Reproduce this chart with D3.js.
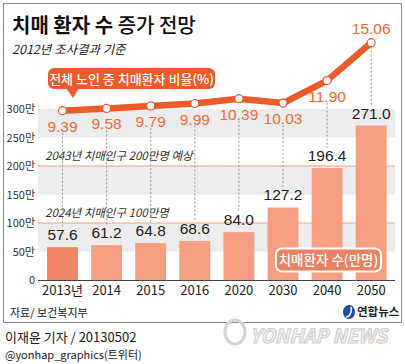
<!DOCTYPE html>
<html><head><meta charset="utf-8">
<script src="https://cdn.jsdelivr.net/npm/d3@7"></script>
<style>
html,body{margin:0;padding:0;background:#fff;}
svg{display:block;}
text{font-family:"Noto Sans CJK KR","Noto Sans",sans-serif;}
.num{font-family:"Liberation Sans",Arial,sans-serif;}
</style></head>
<body>
<script>
const categories = ["2013년","2014","2015","2016","2020","2030","2040","2050"];
const patients = [57.6, 61.2, 64.8, 68.6, 84.0, 127.2, 196.4, 271.0];
const ratio = [9.39, 9.58, 9.79, 9.99, 10.39, 10.03, 11.90, 15.06];
const yTicks = [0, 50, 100, 150, 200, 250, 300];
const yTickLabels = ["0","50만","100만","150만","200만","250만","300만"];
const refLines = [100, 200];
const refNotes = ["2024년 치매인구 100만명", "2043년 치매인구 200만명 예상"];

const W = 405, H = 364;
const svg = d3.select("body").append("svg").attr("width", W).attr("height", H);

const x = d3.scaleBand().domain(categories).range([40.45, 393.25]).paddingInner(0.3).paddingOuter(0.15);
const y = d3.scaleLinear().domain([0, 300]).range([280, 109]);
const yr = d3.scaleLinear().domain([9, 16]).range([115.4, 31.4]);
const cx = c => x(c) + x.bandwidth() / 2;

// outer box
svg.append("rect").attr("x", 3.5).attr("y", 3.5).attr("width", 398).attr("height", 319)
  .attr("fill", "#fff").attr("stroke", "#8a8a8a").attr("stroke-width", 1);

// title
const t = svg.append("text").attr("x", 12).attr("y", 33).attr("font-size", 20).attr("fill", "#111");
t.append("tspan").attr("font-weight", 700).text("치매 환자 수 ");
t.append("tspan").attr("font-weight", 500).text("증가 전망");
svg.append("text").attr("x", 12).attr("y", 54).attr("font-size", 12.5).attr("font-style", "italic")
  .attr("fill", "#222").text("2012년 조사결과 기준");

// gray bands
const bandPairs = [[250,300],[150,200],[50,100]];
svg.append("g").selectAll("rect").data(bandPairs).join("rect")
  .attr("x", 38).attr("width", 357)
  .attr("y", d => y(d[1])).attr("height", d => y(d[0]) - y(d[1]))
  .attr("fill", "#ececec");

// y axis labels
const yAxis = d3.axisLeft(y).tickValues(yTicks).tickSize(0).tickPadding(0)
  .tickFormat((d, i) => yTickLabels[i]);
const ya = svg.append("g").attr("transform", "translate(35,0)").call(yAxis);
ya.select(".domain").remove();
ya.selectAll("text").attr("font-family", '"Noto Sans CJK KR",sans-serif').attr("font-size", 11).attr("fill", "#333");

// reference lines
svg.append("g").selectAll("line").data(refLines).join("line")
  .attr("x1", 38).attr("x2", 395).attr("y1", d => y(d)).attr("y2", d => y(d))
  .attr("stroke", "#f4a27f").attr("stroke-width", 1);
svg.append("g").selectAll("text").data(refLines).join("text")
  .attr("x", 45).attr("y", d => y(d) - 6).attr("font-size", 11.5).attr("font-style", "italic")
  .attr("fill", "#333").text((d, i) => refNotes[i]);

// dotted verticals
svg.append("g").selectAll("line").data(categories).join("line")
  .attr("x1", d => cx(d)).attr("x2", d => cx(d))
  .attr("y1", (d, i) => yr(ratio[i]) + (i === 7 ? 4 : 22))
  .attr("y2", (d, i) => y(patients[i]) - 20)
  .attr("stroke", "#999").attr("stroke-width", 1).attr("stroke-dasharray", "2,2");

// bars
svg.append("g").selectAll("rect").data(categories).join("rect")
  .attr("x", d => x(d)).attr("width", x.bandwidth())
  .attr("y", (d, i) => y(patients[i])).attr("height", (d, i) => y(0) - y(patients[i]))
  .attr("fill", (d, i) => i === 0 ? "#f08464" : "#f59e82");

// bar labels
svg.append("g").selectAll("text").data(categories).join("text")
  .attr("class", "num").attr("x", d => cx(d)).attr("y", (d, i) => y(patients[i]) - 7)
  .attr("text-anchor", "middle").attr("font-size", 15.5).attr("fill", "#222")
  .text((d, i) => patients[i].toFixed(1));

// baseline axis
const xAxis = d3.axisBottom(x).tickSize(0).tickPadding(6);
const xa = svg.append("g").attr("transform", "translate(0,280)").call(xAxis);
xa.select(".domain").attr("d", "M38,0.5H395").attr("stroke", "#444");
xa.selectAll("text").attr("font-family", '"Liberation Sans","Noto Sans CJK KR",sans-serif')
  .attr("font-size", 13).attr("fill", "#222");

// bar legend
svg.append("rect").attr("x", 276).attr("y", 248.5).attr("width", 105).attr("height", 23).attr("rx", 6)
  .attr("fill", "#eb8163").attr("stroke", "#fff").attr("stroke-width", 2);
svg.append("text").attr("x", 328.5).attr("y", 265).attr("text-anchor", "middle")
  .attr("font-size", 13.5).attr("font-weight", 500).attr("fill", "#fff").text("치매환자 수(만명)");

// line
const line = d3.line().x((d, i) => cx(categories[i])).y(d => yr(d));
svg.append("path").datum(ratio).attr("d", line).attr("fill", "none")
  .attr("stroke", "#ee5a2a").attr("stroke-width", 6.5).attr("stroke-linejoin", "round");
svg.append("g").selectAll("circle").data(ratio).join("circle")
  .attr("cx", (d, i) => cx(categories[i])).attr("cy", d => yr(d)).attr("r", 4)
  .attr("fill", "#fff").attr("stroke", "#ee5a2a").attr("stroke-width", 1.2);
svg.append("g").selectAll("text").data(ratio).join("text")
  .attr("class", "num").attr("x", (d, i) => cx(categories[i]))
  .attr("y", (d, i) => i === 7 ? yr(d) - 9 : yr(d) + 21)
  .attr("text-anchor", "middle").attr("font-size", 15.5).attr("fill", "#f26a2c")
  .text(d => d.toFixed(2));

// line legend pill
svg.append("path").attr("d", "M66,88 L73,98 L79,88 Z").attr("fill", "#ee5a2a");
svg.append("rect").attr("x", 48).attr("y", 68).attr("width", 167).attr("height", 21).attr("rx", 6)
  .attr("fill", "#ee5a2a");
svg.append("text").attr("x", 131.5).attr("y", 83.5).attr("text-anchor", "middle")
  .attr("font-size", 13).attr("font-weight", 500).attr("fill", "#fff").text("전체 노인 중 치매환자 비율(%)");

// footer
svg.append("text").attr("x", 10).attr("y", 317).attr("font-size", 11).attr("fill", "#222").text("자료/ 보건복지부");
svg.append("ellipse").attr("cx", 349).attr("cy", 312).attr("rx", 6).attr("ry", 7).attr("fill", "#1d4fa8");
svg.append("path").attr("d", "M351,307 C352,312 350,317 346,317").attr("fill", "none")
  .attr("stroke", "#fff").attr("stroke-width", 1.6);
svg.append("text").attr("x", 357).attr("y", 316).attr("font-size", 11.5).attr("font-weight", 700)
  .attr("fill", "#222").text("연합뉴스");

// watermark
svg.append("ellipse").attr("cx", 235).attr("cy", 332).attr("rx", 10).attr("ry", 12).attr("fill", "none")
  .attr("stroke", "#d4d4d4").attr("stroke-width", 3);
svg.append("text").attr("transform", "translate(250,343) scale(1.02,1.05)")
  .attr("font-size", 18.5).attr("font-weight", 700)
  .attr("font-style", "italic").attr("font-family", '"Liberation Sans",sans-serif')
  .attr("fill", "#f4f4f4").attr("stroke", "#cfcfcf").attr("stroke-width", 1.1).text("YONHAP NEWS");

svg.append("text").attr("x", 5).attr("y", 342).attr("font-size", 13).attr("fill", "#222").text("이재윤 기자 / 20130502");
svg.append("text").attr("x", 5).attr("y", 359).attr("font-size", 11).attr("fill", "#222").text("@yonhap_graphics(트위터)");
</script>
</body></html>
